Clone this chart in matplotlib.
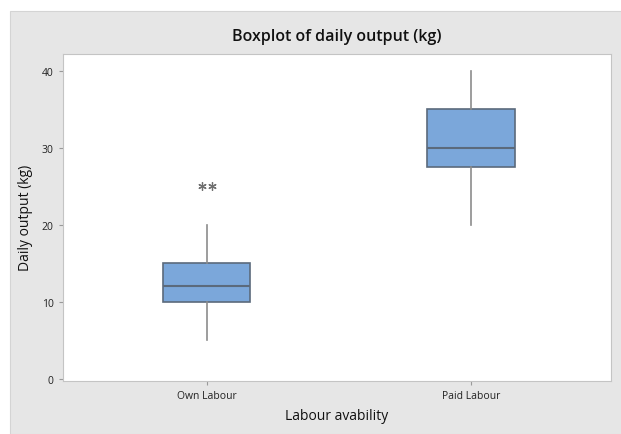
import matplotlib.pyplot as plt
from matplotlib.patches import Rectangle

groups = ['Own Labour', 'Paid Labour']
q1 = [10, 27.5]
medians = [12, 30]
q3 = [15, 35]
whislo = [5, 20]
whishi = [20, 40]
outliers = [[25, 25], []]
outlier_dx = [[-0.018, 0.018], []]

plt.rcParams['font.family'] = ['Open Sans', 'DejaVu Sans']

fig = plt.figure(figsize=(6.21, 4.35), dpi=100)
fig.patch.set_facecolor('white')
fig.patches.append(Rectangle((10 / 621, 0), 1, (435 - 12) / 435, transform=fig.transFigure,
                             facecolor='#e6e6e6', edgecolor='#d4d4d4', lw=0.8, zorder=-1))
ax = fig.add_axes([0.101, 0.122, 0.883, 0.752])

stats = []
for i, g in enumerate(groups):
    stats.append({'label': g, 'q1': q1[i], 'med': medians[i], 'q3': q3[i],
                  'whislo': whislo[i], 'whishi': whishi[i], 'fliers': []})

ax.bxp(stats, positions=[1, 2], widths=0.33, patch_artist=True, showfliers=False,
       boxprops=dict(facecolor='#7ba7da', edgecolor='#5b6a7c', lw=1.2),
       medianprops=dict(color='#5b6a7c', lw=1.5),
       whiskerprops=dict(color='#8c8c8c', lw=1.2),
       capprops=dict(visible=False))

for i, pts in enumerate(outliers):
    for v, dx in zip(pts, outlier_dx[i]):
        ax.plot(1 + i + dx, v, marker=(6, 2, 0), ms=6, color='#707070', mew=0.9, ls='none')

ax.set_xlim(0.455, 2.53)
ax.set_ylim(-0.3, 42.2)
ax.set_yticks([0, 10, 20, 30, 40])
ax.set_xticks([1, 2])
ax.set_xticklabels(groups)
ax.tick_params(axis='both', labelsize=7.5, colors='#9a9a9a', labelcolor='#222222', length=3)
for s in ax.spines.values():
    s.set_color('#c4c4c4')

ax.set_title('Boxplot of daily output (kg)', fontsize=11.5, fontweight='semibold',
             color='#111111', pad=10)
ax.set_xlabel('Labour avability', fontsize=10, color='#111111', labelpad=5)
ax.set_ylabel('Daily output (kg)', fontsize=10, color='#111111', labelpad=6)

fig.savefig('out.png', dpi=100)
